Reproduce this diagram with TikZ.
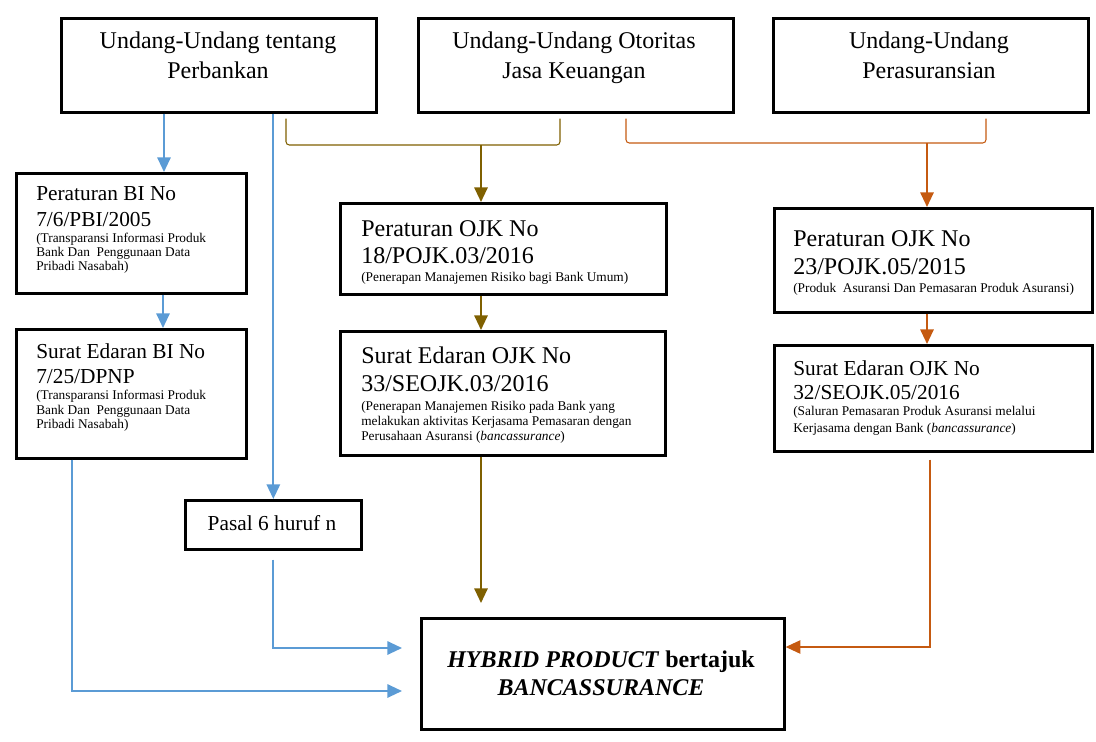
\documentclass[tikz,border=0pt]{standalone}
\usepackage{fontspec}
\setmainfont{Liberation Serif}
\usetikzlibrary{arrows.meta}
\definecolor{cblue}{HTML}{5B9BD5}
\definecolor{cbrown}{HTML}{7F6000}
\definecolor{corange}{HTML}{C55A11}
\begin{document}
\begin{tikzpicture}[x=0.75pt,y=-0.75pt,
  box/.style={draw=black, line width=2pt, fill=white, inner sep=0pt, anchor=north west},
  txt/.style={inner sep=0pt, anchor=base west},
  ctxt/.style={inner sep=0pt, anchor=base},
  fxviii/.style={font=\fontsize{18}{21}\selectfont},
  fxvi/.style={font=\fontsize{16}{19}\selectfont},
  fsmall/.style={font=\fontsize{10}{12}\selectfont},
  fhyb/.style={font=\fontsize{18}{21}\selectfont\bfseries},
  tip/.style={-{Triangle[length=11pt,width=10pt]}},
  barrow/.style={draw=cblue, line width=1.5pt, tip},
  brthin/.style={draw=cbrown, line width=0.8pt, rounded corners=2.5pt},
  brarrow/.style={draw=cbrown, line width=1.5pt, tip},
  orthin/.style={draw=corange, line width=0.8pt, rounded corners=2.5pt},
  orarrow/.style={draw=corange, line width=1.5pt, tip},
  orthinarrow/.style={draw=corange, line width=1pt, tip}]
\useasboundingbox (0,0) rectangle (1096,742);

% boxes
\node[box, minimum width=236.25pt, minimum height=70.5pt] (A) at (60,17) {};
\node[box, minimum width=236.25pt, minimum height=70.5pt] (B) at (417,17) {};
\node[box, minimum width=236.25pt, minimum height=70.5pt] (C) at (772,17) {};
\node[box, minimum width=172.5pt, minimum height=90pt] (D) at (15,172) {};
\node[box, minimum width=172.5pt, minimum height=96.75pt] (E) at (15,328) {};
\node[box, minimum width=244.5pt, minimum height=68.25pt] (F) at (339,202) {};
\node[box, minimum width=243.75pt, minimum height=93pt] (G) at (339,330) {};
\node[box, minimum width=238.5pt, minimum height=78pt] (H) at (773,207) {};
\node[box, minimum width=238.5pt, minimum height=79.5pt] (I) at (773,344) {};
\node[box, minimum width=132pt, minimum height=36.75pt] (P) at (184,499) {};
\node[box, minimum width=272.25pt, minimum height=83.25pt] (Hyb) at (420,617) {};

% texts
\node[ctxt, fxviii] (tA1) at (218,49) {Undang-Undang tentang};
\node[ctxt, fxviii] (tA2) at (218,79) {Perbankan};
\node[ctxt, fxviii] (tB1) at (574,49) {Undang-Undang Otoritas};
\node[ctxt, fxviii] (tB2) at (574,79) {Jasa Keuangan};
\node[ctxt, fxviii] (tC1) at (929,49) {Undang-Undang};
\node[ctxt, fxviii] (tC2) at (929,79) {Perasuransian};

\node[txt, fxvi] (tD1) at (36,200) {Peraturan BI No};
\node[txt, fxvi] (tD2) at (36,226) {7/6/PBI/2005};
\node[txt, fsmall] (tD3) at (36,242.5) {(Transparansi Informasi Produk};
\node[txt, fsmall] (tD4) at (36,256.5) {Bank Dan~ Penggunaan Data};
\node[txt, fsmall] (tD5) at (36,270.5) {Pribadi Nasabah)};

\node[txt, fxvi] (tE1) at (36,358) {Surat Edaran BI No};
\node[txt, fxvi] (tE2) at (36,383) {7/25/DPNP};
\node[txt, fsmall] (tE3) at (36,399.5) {(Transparansi Informasi Produk};
\node[txt, fsmall] (tE4) at (36,414) {Bank Dan~ Penggunaan Data};
\node[txt, fsmall] (tE5) at (36,428.5) {Pribadi Nasabah)};

\node[txt, fxviii] (tF1) at (361,236) {Peraturan OJK No};
\node[txt, fxviii] (tF2) at (361,263) {18/POJK.03/2016};
\node[txt, fsmall] (tF3) at (361,281) {(Penerapan Manajemen Risiko bagi Bank Umum)};

\node[txt, fxviii] (tG1) at (361,363) {Surat Edaran OJK No};
\node[txt, fxviii] (tG2) at (361,391) {33/SEOJK.03/2016};
\node[txt, fsmall] (tG3) at (361,410) {(Penerapan Manajemen Risiko pada Bank yang};
\node[txt, fsmall] (tG4) at (361,425) {melakukan aktivitas Kerjasama Pemasaran dengan};
\node[txt, fsmall] (tG5) at (361,440) {Perusahaan Asuransi (\textit{bancassurance})};

\node[txt, fxviii] (tH1) at (793,246.5) {Peraturan OJK No};
\node[txt, fxviii] (tH2) at (793,274) {23/POJK.05/2015};
\node[txt, fsmall] (tH3) at (793,292.5) {(Produk~ Asuransi Dan Pemasaran Produk Asuransi)};

\node[txt, fxvi] (tI1) at (793,375) {Surat Edaran OJK No};
\node[txt, fxvi] (tI2) at (793,399.5) {32/SEOJK.05/2016};
\node[txt, fsmall] (tI3) at (793,415) {(Saluran Pemasaran Produk Asuransi melalui};
\node[txt, fsmall] (tI4) at (793,432.5) {Kerjasama dengan Bank (\textit{bancassurance})};

\node[ctxt, fxvi] (tP) at (272,530) {Pasal 6 huruf n};
\node[ctxt, fhyb] (tH1b) at (601,667) {\textit{HYBRID PRODUCT} bertajuk};
\node[ctxt, fhyb] (tH2b) at (601,695) {\textit{BANCASSURANCE}};

% helper coordinates
\coordinate (xa) at (164,0);
\coordinate (xb) at (163,0);
\coordinate (xc) at (72,0);
\coordinate (ya) at (0,648);
\coordinate (yb) at (0,691);
\coordinate (bl) at (286,145);
\coordinate (br) at (560,145);
\coordinate (bm) at (481,145);
\coordinate (ol) at (626,143);
\coordinate (or) at (986,143);
\coordinate (om) at (927,143);
\coordinate (on) at (930,0);
\coordinate (yo) at (0,647);

% blue connectors
\draw[barrow] (A.south -| xa) -- (D.north -| xa);
\draw[barrow] (D.south -| xb) -- (E.north -| xb);
\draw[barrow] (A.south -| P.north) -- (P.north);
\draw[barrow, shorten <=6.75pt, shorten >=13.5pt] (P.south) |- (Hyb.west |- ya);
\draw[barrow, shorten >=13.5pt] (E.south -| xc) |- (Hyb.west |- yb);

% brown connectors
\draw[brthin, shorten <=3.75pt, shorten >=3.75pt] (A.south -| bl) -- (bl) -- (br) -- (B.south -| br);
\draw[brarrow] (bm) -- (F.north -| bm);
\draw[brarrow] (F.south -| bm) -- (G.north -| bm);
\draw[brarrow, shorten >=10.5pt] (G.south -| bm) -- (Hyb.north -| bm);

% orange connectors
\draw[orthin, shorten <=3.75pt, shorten >=3.75pt] (B.south -| ol) -- (ol) -- (or) -- (C.south -| or);
\draw[orarrow] (om) -- (H.north -| om);
\draw[orarrow] (H.south -| om) -- (I.north -| om);
\draw[orthinarrow, shorten <=5.25pt] (I.south -| on) |- (Hyb.east |- yo);
\end{tikzpicture}
\end{document}
